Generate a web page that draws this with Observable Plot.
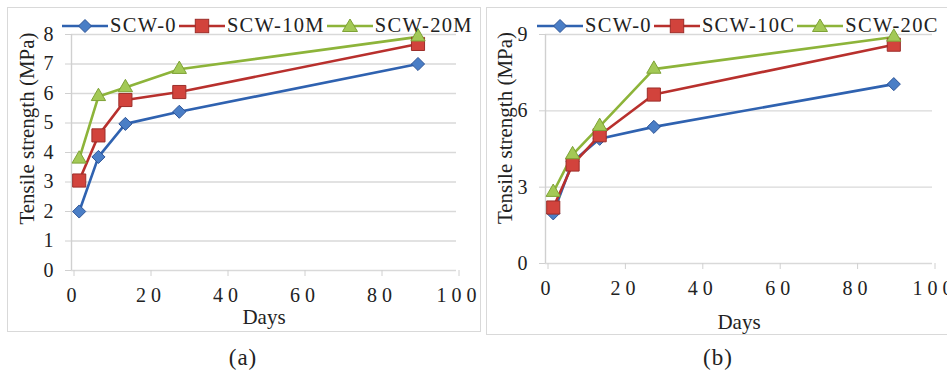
<!DOCTYPE html>
<html>
<head>
<meta charset="utf-8">
<script src="https://cdn.jsdelivr.net/npm/d3@7"></script>
<script src="https://cdn.jsdelivr.net/npm/@observablehq/plot@0.6"></script>
<style>
  html, body { margin: 0; padding: 0; background: #fff; }
  #root { position: relative; width: 947px; height: 371px; overflow: hidden; background: #fff;
          font-family: "Liberation Serif", "Times New Roman", serif; color: #222; }
  .panel { position: absolute; box-sizing: border-box; border: 1.5px solid #d9d9d9; }
  .chart { position: absolute; }
  .legend { position: absolute; display: flex; align-items: center; gap: 2px; font-size: 20.5px; letter-spacing: 1.3px; white-space: nowrap; }
  .legend .item { display: flex; align-items: center; }
  .legend svg { display: block; }
  .caption { position: absolute; font-size: 23px; transform: translate(-50%, -50%); letter-spacing: 1px; }
  [aria-label="x-axis tick label"] text { letter-spacing: 5px; }
</style>
</head>
<body>
<div id="root"></div>
<script>
// ---- data ----
const days = [2, 7, 14, 28, 90];
const seriesA = ["SCW-0", "SCW-10M", "SCW-20M"];
const seriesB = ["SCW-0", "SCW-10C", "SCW-20C"];
const scw0A   = [2.0, 3.85, 4.97, 5.38, 7.0];
const scw10MA = [3.05, 4.58, 5.78, 6.05, 7.68];
const scw20MA = [3.78, 5.9, 6.2, 6.82, 7.92];
const scw0B   = [1.97, 4.0, 4.9, 5.37, 7.05];
const scw10CB = [2.2, 3.89, 5.04, 6.64, 8.6];
const scw20CB = [2.8, 4.28, 5.39, 7.64, 8.9];
const xTicks = [0, 20, 40, 60, 80, 100];
const yTicksA = [0, 1, 2, 3, 4, 5, 6, 7, 8];
const yTicksB = [0, 3, 6, 9];
const xTitle = "Days";
const yTitle = "Tensile strength (MPa)";
const captions = ["(a)", "(b)"];

// ---- styles ----
const seriesStyle = [
  {line: "#2f62b0", fill: "#4a7ec6", stroke: "#2f5597", symbol: "diamond2", r: 5.9},
  {line: "#b8302d", fill: "#d2433c", stroke: "#9c2e2a", symbol: "square", r: 7.4},
  {line: "#8db43a", fill: "#a3c956", stroke: "#7ea236", symbol: "triangle", r: 5.3}
];
const FONT = '"Liberation Serif", "Times New Roman", serif';

function rowsOf(names, valueLists) {
  const rows = [];
  names.forEach((name, i) => days.forEach((d, j) => rows.push({series: name, idx: i, day: d, value: valueLists[i][j]})));
  return rows;
}

function makeChart(cfg) {
  const rows = rowsOf(cfg.names, cfg.values);
  const lines = cfg.names.map((n, i) => Plot.line(rows.filter(r => r.idx === i), {
    x: "day", y: "value", stroke: seriesStyle[i].line, strokeWidth: 2.6
  }));
  const dots = cfg.names.map((n, i) => Plot.dot(rows.filter(r => r.idx === i), {
    x: "day", y: "value", symbol: seriesStyle[i].symbol, r: seriesStyle[i].r,
    fill: seriesStyle[i].fill, stroke: seriesStyle[i].stroke, strokeWidth: 1
  }));
  return Plot.plot({
    width: cfg.width, height: cfg.height,
    marginLeft: cfg.ml, marginRight: cfg.mr, marginTop: cfg.mt, marginBottom: cfg.mb,
    x: {domain: [0, 100], ticks: xTicks},
    y: {domain: [0, cfg.yMax], ticks: cfg.yTicks},
    style: {fontFamily: FONT, fontSize: "20px", color: "#222", background: "transparent", overflow: "visible"},
    marks: [
      Plot.gridY(cfg.yTicks, {stroke: "#d9d9d9", strokeOpacity: 1, strokeWidth: 1.4}),
      Plot.ruleX([0], {stroke: "#d0d0d0", strokeWidth: 1.4}),
      Plot.axisX(xTicks, {tickSize: 6, tickPadding: 11, stroke: "#d0d0d0", strokeOpacity: 1, fill: "#222", label: null, fontSize: 20, dx: 2.5}),
      Plot.axisY(cfg.yTicks, {tickSize: 6, tickPadding: 12, stroke: "#d0d0d0", strokeOpacity: 1, fill: "#222", label: null, fontSize: 20}),
      ...lines,
      ...dots,
      Plot.text([xTitle], {frameAnchor: "bottom", lineAnchor: "middle", textAnchor: "middle", dy: cfg.xTitleDy, fontSize: 21, fill: "#222"}),
      Plot.text([yTitle], {frameAnchor: "left", textAnchor: "middle", lineAnchor: "middle", rotate: -90, dx: cfg.yTitleDx, dy: cfg.yTitleDy, fontSize: 21, fill: "#222"})
    ]
  });
}

function legendSwatch(i) {
  const s = seriesStyle[i];
  const w = 46, h = 22, cx = w / 2, cy = h / 2;
  let shape;
  if (s.symbol === "diamond2") shape = `<polygon points="${cx},${cy-6.5} ${cx+6.5},${cy} ${cx},${cy+6.5} ${cx-6.5},${cy}" fill="${s.fill}" stroke="${s.stroke}"/>`;
  else if (s.symbol === "square") shape = `<rect x="${cx-6.7}" y="${cy-6.7}" width="13.4" height="13.4" fill="${s.fill}" stroke="${s.stroke}"/>`;
  else shape = `<polygon points="${cx},${cy-7} ${cx+7.5},${cy+5.5} ${cx-7.5},${cy+5.5}" fill="${s.fill}" stroke="${s.stroke}"/>`;
  return `<svg width="${w}" height="${h}"><line x1="0" x2="${w}" y1="${cy}" y2="${cy}" stroke="${s.line}" stroke-width="2.6"/>${shape}</svg>`;
}

function makeLegend(names, left, top) {
  const div = document.createElement("div");
  div.className = "legend";
  div.style.left = left + "px";
  div.style.top = top + "px";
  div.innerHTML = names.map((n, i) => `<div class="item">${legendSwatch(i)}<span style="margin-left:2px">${n}</span></div>`).join("");
  return div;
}

const root = document.getElementById("root");

function addPanel(left, top, w, h) {
  const p = document.createElement("div");
  p.className = "panel";
  Object.assign(p.style, {left: left + "px", top: top + "px", width: w + "px", height: h + "px"});
  root.appendChild(p);
}

addPanel(7, 7, 474, 325);
addPanel(486, 7, 480, 328);

const chartA = makeChart({
  names: seriesA, values: [scw0A, scw10MA, scw20MA], yMax: 8, yTicks: yTicksA,
  width: 474, height: 325, ml: 64, mr: 25, mt: 27, mb: 62,
  xTitleDy: 47, yTitleDx: -44, yTitleDy: -24
});
chartA.classList.add("chart");
Object.assign(chartA.style, {left: "7px", top: "7px"});
root.appendChild(chartA);

const chartB = makeChart({
  names: seriesB, values: [scw0B, scw10CB, scw20CB], yMax: 9, yTicks: yTicksB,
  width: 480, height: 328, ml: 59, mr: 34, mt: 27, mb: 72,
  xTitleDy: 59, yTitleDx: -40, yTitleDy: -21
});
chartB.classList.add("chart");
Object.assign(chartB.style, {left: "486px", top: "7px"});
root.appendChild(chartB);

root.appendChild(makeLegend(seriesA, 62, 14));
root.appendChild(makeLegend(seriesB, 537, 14));

[[captions[0], 243, 358], [captions[1], 718, 358]].forEach(([t, x, y]) => {
  const c = document.createElement("div");
  c.className = "caption";
  c.textContent = t;
  c.style.left = x + "px";
  c.style.top = y + "px";
  root.appendChild(c);
});
</script>
</body>
</html>
